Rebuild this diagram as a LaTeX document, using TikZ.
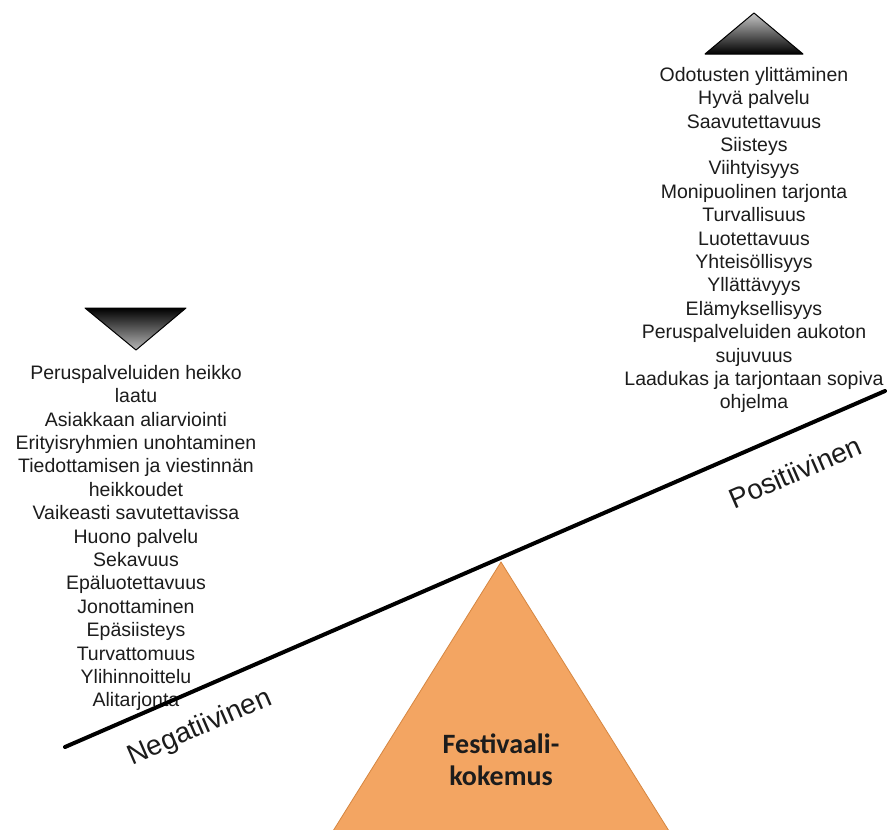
\documentclass[tikz,border=0pt]{standalone}
\usepackage{fontspec}
\setmainfont{Liberation Sans}
\newfontfamily\carlitofont{Carlito}

\definecolor{orangefill}{RGB}{243,165,98}
\definecolor{orangeedge}{RGB}{214,134,64}
\definecolor{txtcol}{RGB}{28,28,28}

\begin{document}
\begin{tikzpicture}[x=1pt,y=-1pt,
  listtext/.style={inner sep=0pt, align=center, text=txtcol, anchor=north,
                   font=\fontsize{19.5}{23.4}\selectfont},
  sidelabel/.style={inner sep=0pt, text=txtcol, rotate=23.5,
                    font=\fontsize{28}{30}\selectfont},
  beam/.style={line width=4pt, line cap=round},
  pyramid/.style={fill=orangefill, draw=orangeedge, line width=0.8pt},
  uptri/.style={top color=gray!45, bottom color=black, draw=black, line width=1pt, line join=round},
  downtri/.style={top color=black, bottom color=gray!55, draw=black, line width=1pt, line join=round},
  centertext/.style={inner sep=0pt, align=center, text=txtcol,
                     font=\carlitofont\bfseries\fontsize{28}{32}\selectfont}
]
\fill[white] (0,0) rectangle (887,830);
\useasboundingbox (0,0) rectangle (887,830);

% fulcrum
\path[pyramid] (501,562) -- (669,831) -- (333,831) -- cycle;
\node[centertext] (fest) at (501,760) {Festivaali-\\kokemus};

% small triangles
\shadedraw[uptri] (754,13) -- (803,54) -- (705,54) -- cycle;
\shadedraw[downtri] (85,308) -- (186,308) -- (136,350) -- cycle;

% lists
\node[listtext] (poslist) at (754,67) {Odotusten ylittäminen\\Hyvä palvelu\\Saavutettavuus\\Siisteys\\Viihtyisyys\\Monipuolinen tarjonta\\Turvallisuus\\Luotettavuus\\Yhteisöllisyys\\Yllättävyys\\Elämyksellisyys\\Peruspalveluiden aukoton\\sujuvuus\\Laadukas ja tarjontaan sopiva\\ohjelma};

\node[listtext] (neglist) at (136,365) {Peruspalveluiden heikko\\laatu\\Asiakkaan aliarviointi\\Erityisryhmien unohtaminen\\Tiedottamisen ja viestinnän\\heikkoudet\\Vaikeasti savutettavissa\\Huono palvelu\\Sekavuus\\Epäluotettavuus\\Jonottaminen\\Epäsiisteys\\Turvattomuus\\Ylihinnoittelu\\Alitarjonta};

% beam (drawn over the list, as in the reference)
\coordinate (negEnd) at (65,747);
\coordinate (posEnd) at (885,391);
\draw[beam] (negEnd) -- (posEnd);

% side labels
\node[sidelabel] (neglabel) at (200,728) {Negatiivinen};
\node[sidelabel] (poslabel) at (795,472) {Positiivinen};
\end{tikzpicture}
\end{document}
